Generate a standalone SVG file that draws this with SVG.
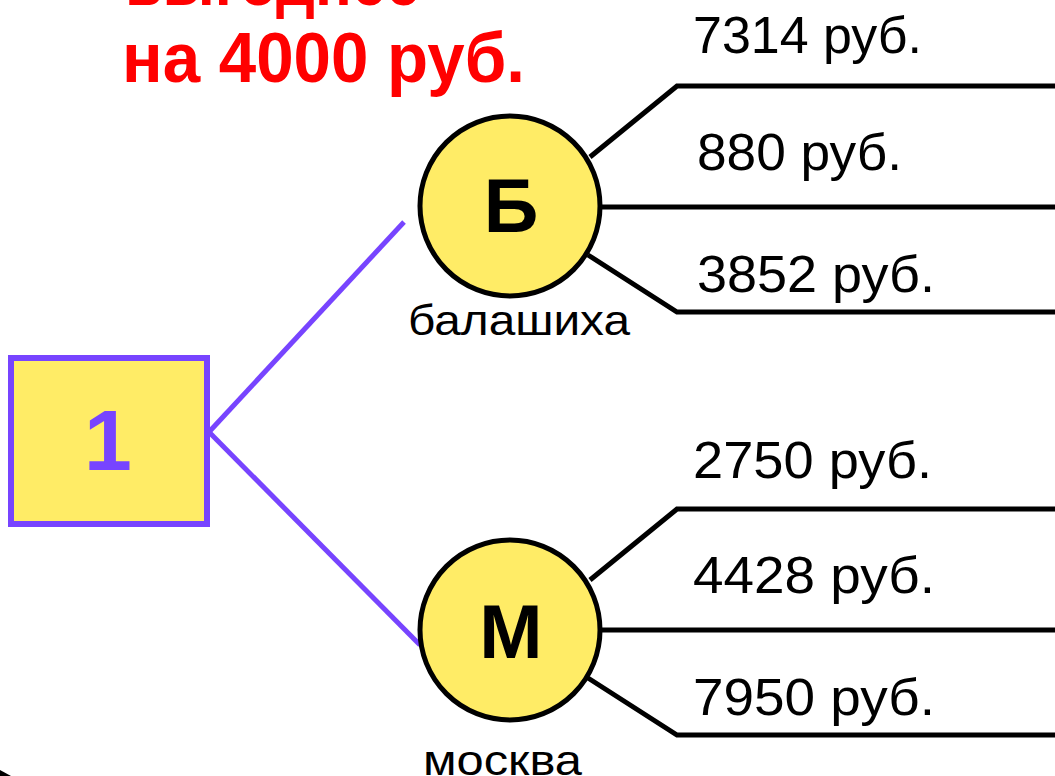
<svg xmlns="http://www.w3.org/2000/svg" width="1055" height="776" viewBox="0 0 1055 776">
<style>
.red{font-family:"Liberation Sans",Arial,sans-serif;font-weight:bold;font-size:70px;fill:#ff0000}
.price{font-family:"Liberation Sans",Arial,sans-serif;font-size:52px;fill:#000}
.big{font-family:"Liberation Sans",Arial,sans-serif;font-weight:bold;font-size:76px;fill:#000;text-anchor:middle}
.cap{font-family:"Liberation Sans",Arial,sans-serif;font-size:43px;fill:#000}
.circ{fill:#ffec66;stroke:#000;stroke-width:5}
.pl{stroke:#7744ff;stroke-width:5;fill:none}
.bl{stroke:#000;stroke-width:5;fill:none}
</style>
<rect width="1055" height="776" fill="#fff"/>
<g id="title">
<text class="red" x="125" y="5" textLength="295" lengthAdjust="spacingAndGlyphs">выгоднее</text>
<text class="red" x="122" y="82" textLength="403" lengthAdjust="spacingAndGlyphs">на 4000 руб.</text>
</g>
<g id="connectors">
<line class="pl" x1="209" y1="432" x2="404" y2="222"/>
<line class="pl" x1="209" y1="432" x2="420" y2="645"/>
<polyline class="bl" points="590,157 677,86 1055,86"/>
<line class="bl" x1="600" y1="207" x2="1055" y2="207"/>
<polyline class="bl" points="588,255 677,312 1055,312"/>
<polyline class="bl" points="590,580 677,509 1055,509"/>
<line class="bl" x1="600" y1="630" x2="1055" y2="630"/>
<polyline class="bl" points="588,678 677,735 1055,735"/>
</g>
<g id="node-1">
<rect x="11" y="358" width="196" height="166" fill="#ffec66" stroke="#7744ff" stroke-width="6"/>
<text x="108" y="470" font-family="Liberation Sans, Arial, sans-serif" font-weight="bold" font-size="86" fill="#7744ff" text-anchor="middle">1</text>
</g>
<g id="node-B">
<circle class="circ" cx="510" cy="206" r="90"/>
<text class="big" x="511" y="232">Б</text>
<text class="cap" x="408" y="335" textLength="222" lengthAdjust="spacingAndGlyphs">балашиха</text>
</g>
<g id="node-M">
<circle class="circ" cx="510" cy="630" r="90"/>
<text class="big" x="511" y="658">М</text>
<text class="cap" x="423" y="775" textLength="159" lengthAdjust="spacingAndGlyphs">москва</text>
</g>
<g id="prices">
<text class="price" x="693" y="53" textLength="229" lengthAdjust="spacingAndGlyphs">7314 руб.</text>
<text class="price" x="697" y="170" textLength="205" lengthAdjust="spacingAndGlyphs">880 руб.</text>
<text class="price" x="697" y="292" textLength="238" lengthAdjust="spacingAndGlyphs">3852 руб.</text>
<text class="price" x="693" y="478" textLength="239" lengthAdjust="spacingAndGlyphs">2750 руб.</text>
<text class="price" x="693" y="593" textLength="242" lengthAdjust="spacingAndGlyphs">4428 руб.</text>
<text class="price" x="693" y="715" textLength="242" lengthAdjust="spacingAndGlyphs">7950 руб.</text>
</g>
<path d="M0,770 L11,776 L0,776 Z" fill="#000"/>
</svg>
